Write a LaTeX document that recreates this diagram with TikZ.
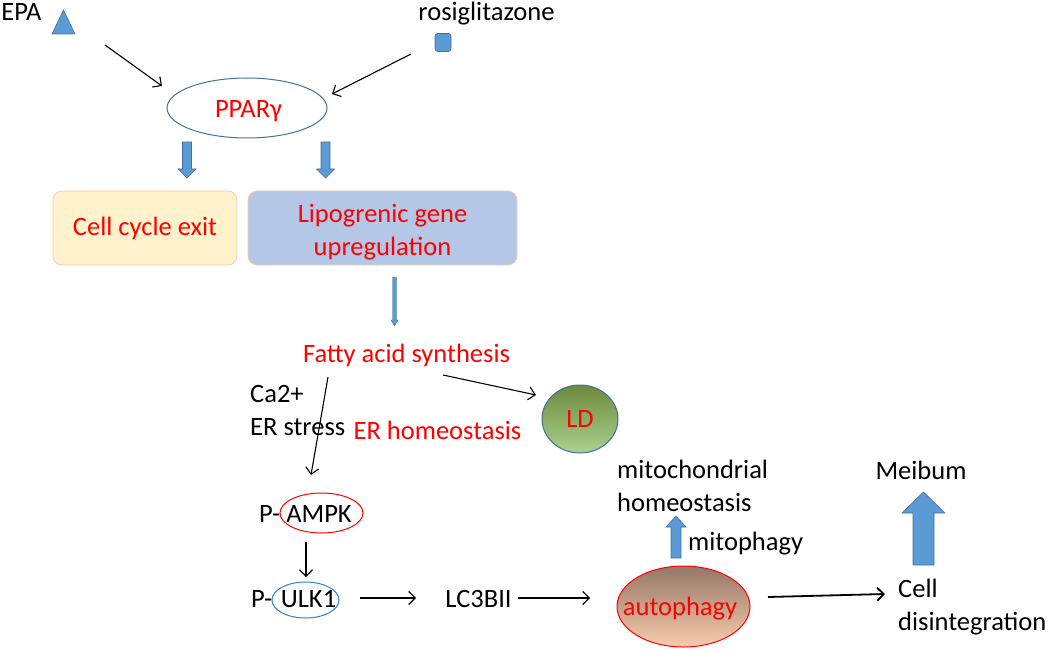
\documentclass[tikz,border=0pt]{standalone}
\usepackage{fontspec}
\setmainfont{Carlito}
\usetikzlibrary{shapes.geometric,arrows.meta}
\definecolor{pblue}{HTML}{5B9BD5}
\definecolor{pbord}{HTML}{41719C}
\definecolor{ulkblue}{HTML}{2E7FD0}
\definecolor{pred}{HTML}{FF0000}
\definecolor{yfill}{HTML}{FFF2CC}
\definecolor{bfill}{HTML}{B4C7E7}
\definecolor{peach}{HTML}{F8CBAD}
\definecolor{ldtop}{HTML}{6C8A3E}
\definecolor{ldbot}{HTML}{A9D18E}
\definecolor{autotop}{HTML}{957766}
\definecolor{autobot}{HTML}{F8CBAD}
\begin{document}
\begin{tikzpicture}[x=1pt,y=-1pt,
  font=\fontsize{26.5}{33}\selectfont,
  txt/.style={inner sep=0pt, anchor=base},
  ltxt/.style={inner sep=0pt, anchor=base west},
  redtxt/.style={txt, text=pred},
  arr/.style={-{Straight Barb[length=6.5pt,width=13pt]}, line width=1.1pt},
  blk/.style={fill=pblue, draw=pbord, line width=0.6pt, line join=miter},
  bubble/.style={ellipse, inner sep=0pt, line width=1pt},
  roundbox/.style={draw=peach, line width=0.8pt, rounded corners=9pt, text=pred, inner sep=0pt, align=center}]
\useasboundingbox (0,0) rectangle (1050,650);

% top inputs
\node[txt] (epa) at (21.5,21) {EPA};
\filldraw[blk] (52,34) -- (63.5,10) -- (75,34) -- cycle;
\coordinate (tri) at (63.5,24);
\node[txt] (rosi) at (486.5,21) {rosiglitazone};
\node[draw=pbord, fill=pblue, rounded corners=2.5pt, minimum width=16, minimum height=18, inner sep=0pt, line width=0.6pt] (sq) at (443,42.5) {};

% PPAR gamma
\node[bubble, draw=pbord, minimum width=160, minimum height=60] (ppar) at (247,108) {};
\node[redtxt] (ppartxt) at (248.5,118) {PPARγ};

\draw[arr] ([shift={(41.5,21)}]tri) -- ([shift={(-85,-22)}]ppar.center);
\draw[arr] ([shift={(-32,11.5)}]sq.center) -- ([shift={(85,-14)}]ppar.center);

% block arrows down
\filldraw[blk] (182.5,142) -- (191.5,142) -- (191.5,169) -- (196,169) -- (187,178) -- (178,169) -- (182.5,169) -- cycle;
\filldraw[blk] (321,142) -- (330,142) -- (330,169) -- (334.5,169) -- (325.5,178) -- (316.5,169) -- (321,169) -- cycle;

% boxes
\node[roundbox, fill=yfill, minimum width=184, minimum height=74] (cce) at (145,228) {Cell cycle exit};
\node[roundbox, fill=bfill, minimum width=269, minimum height=74] (lipo) at (382.5,228) {};
\node[redtxt, align=center, anchor=center] (lipotxt) at (382.5,232) {Lipogrenic gene\\upregulation};

% thin arrow
\filldraw[blk, line width=0.4pt] (392.5,277) -- (396.5,277) -- (396.5,320) -- (398,320) -- (394.5,326) -- (391,320) -- (392.5,320) -- cycle;

% fatty acid synthesis
\node[redtxt] (fatty) at (406.5,362) {Fatty acid synthesis};
\node[bubble, draw=pbord, top color=ldtop, bottom color=ldbot, minimum width=76, minimum height=68, text=pred] (ld) at (580,419) {LD};
\draw[arr] ([shift={(36.5,13)}]fatty.base) -- ([shift={(-44,-24)}]ld.center);

\node[ltxt] (ca) at (250,402) {Ca2+};
\node[ltxt] (ers) at (250,435) {ER stress};
\node[redtxt] (erh) at (437.5,439) {ER homeostasis};

% AMPK / ULK1
\node[bubble, draw=pred, minimum width=83, minimum height=40] (ampk) at (321.5,513) {};
\node[txt] (ampktxt) at (319,522) {AMPK};
\node[ltxt] (pa) at (259,522) {P-};
\node[bubble, draw=ulkblue, minimum width=67, minimum height=36] (ulk) at (305.5,600) {};
\node[txt] (ulktxt) at (308.5,607) {ULK1};
\node[ltxt] (pu) at (251,607) {P-};

\draw[arr] ([shift={(-78.5,15)}]fatty.base) -- ([shift={(-10.5,-38)}]ampk.center);
\draw[arr] ([shift={(-15.5,29)}]ampk.center) -- ([shift={(0.5,-23)}]ulk.center);

\node[txt] (lc3) at (478.5,607) {LC3BII};
\draw[arr] ([shift={(54.5,-2)}]ulk.center) -- ([shift={(-62.5,-9)}]lc3.base);

% autophagy
\node[bubble, draw=pred, top color=autotop, bottom color=autobot, minimum width=133, minimum height=81] (auto) at (683.5,606.5) {};
\node[redtxt] (autotxt) at (680,615) {autophagy};
\draw[arr] ([shift={(39.5,-9)}]lc3.base) -- ([shift={(-93.5,-8.5)}]auto.center);

% mitochondrial
\node[ltxt] (mito1) at (617,478) {mitochondrial};
\node[ltxt] (mito2) at (617,511) {homeostasis};
\node[ltxt] (mitoph) at (688,550) {mitophagy};
\filldraw[blk] (671,558) -- (671,527) -- (666,527) -- (676,516) -- (686,527) -- (681,527) -- (681,558) -- cycle;

% cell disintegration / meibum
\node[ltxt] (cell1) at (898,597) {Cell};
\node[ltxt] (cell2) at (898,630) {disintegration};
\draw[arr, line width=1.8pt] ([shift={(84.5,-9.5)}]auto.center) -- ([shift={(-13,-3)}]cell1.base west);
\node[txt] (meibum) at (921,479) {Meibum};
\filldraw[blk] (913,565) -- (913,513) -- (902,513) -- (923.5,492) -- (945,513) -- (934,513) -- (934,565) -- cycle;
\end{tikzpicture}
\end{document}
